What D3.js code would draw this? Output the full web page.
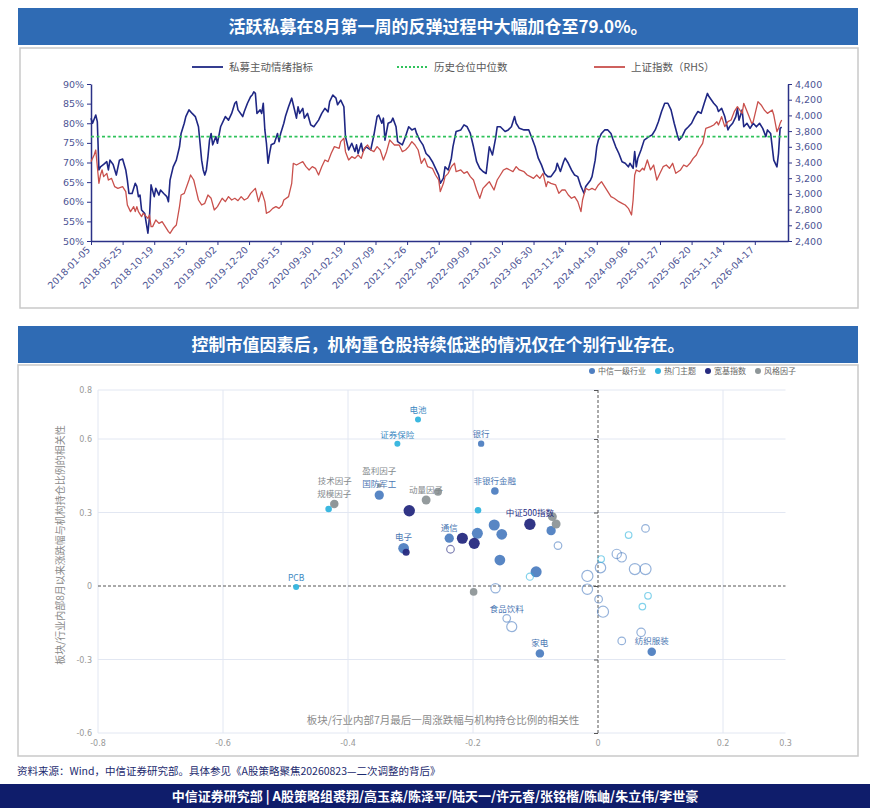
<!DOCTYPE html>
<html>
<head>
<meta charset="utf-8">
<title>私募仓位与机构重仓</title>
<style>
  body { margin: 0; background: #fff; }
  text { font-family: "Noto Sans CJK SC", "DejaVu Sans", sans-serif; }
  .num text, text.num { font-family: "DejaVu Sans", sans-serif; }
</style>
</head>
<body>
<svg width="870" height="808"></svg>
<script src="https://cdnjs.cloudflare.com/ajax/libs/d3/7.8.5/d3.min.js"></script>
<script>
// ---------- 上图数据：[周序号, 数值] ----------
const dateTicks = ["2018-01-05","2018-05-25","2018-10-19","2019-03-15","2019-08-02","2019-12-20",
  "2020-05-15","2020-09-30","2021-02-19","2021-07-09","2021-11-26","2022-04-22","2022-09-09",
  "2023-02-10","2023-06-30","2023-11-24","2024-04-19","2024-09-06","2025-01-27","2025-06-20",
  "2025-11-14","2026-04-17"];

const sentiment = [[0,81.3],[1,80.0],[3,82.1],[4,80.4],[5,68.1],[6,68.9],[8,69.5],[10,70.2],[11,68.1],
  [12,70.6],[14,69.5],[16,66.8],[18,70.6],[20,70.9],[22,68.1],[23,65.5],[24,62.1],[26,62.1],[28,64.7],
  [29,63.9],[30,61.3],[31,61.7],[32,57.9],[34,57.0],[35,54.5],[36,52.0],[37,56.0],[38,64.3],[40,61.3],
  [41,63.4],[43,61.7],[44,63.0],[46,62.1],[48,61.3],[49,60.0],[50,65.5],[52,68.9],[54,70.6],[56,74.0],
  [57,77.4],[59,80.0],[60,81.7],[62,83.4],[64,82.5],[66,81.7],[68,79.1],[69,74.9],[70,70.6],[71,68.1],
  [72,66.8],[73,68.1],[74,71.5],[75,75.7],[76,77.4],[77,74.5],[79,76.6],[80,74.9],[82,79.1],[85,81.7],
  [87,80.8],[89,82.5],[91,85.1],[92,85.5],[93,83.4],[96,81.7],[97,83.0],[99,85.1],[101,86.8],[102,87.2],
  [103,88.0],[104,87.6],[105,82.5],[107,83.4],[108,82.5],[109,85.1],[110,78.3],[111,74.9],[112,69.8],
  [113,72.3],[114,74.5],[116,74.9],[118,77.4],[119,75.3],[120,77.4],[122,80.0],[123,81.7],[125,84.2],
  [127,86.4],[128,84.7],[130,81.3],[131,84.2],[132,82.5],[134,83.8],[135,81.3],[137,82.5],[139,79.6],
  [141,79.1],[144,80.8],[146,82.5],[148,83.8],[150,82.9],[151,85.5],[153,87.2],[155,86.4],[156,84.7],
  [158,85.9],[160,84.2],[161,76.6],[163,73.2],[165,74.9],[167,72.8],[168,74.5],[169,72.3],[171,74.9],
  [172,72.8],[174,74.0],[177,73.2],[179,77.0],[181,81.7],[182,82.1],[184,80.0],[185,81.3],[186,75.7],
  [188,80.0],[190,80.4],[191,81.3],[193,79.1],[194,75.3],[197,74.5],[199,76.6],[201,79.1],[203,78.3],
  [205,78.7],[206,77.4],[208,75.7],[210,74.5],[212,72.3],[214,71.5],[216,70.2],[218,68.5],[220,66.8],
  [221,64.7],[223,66.0],[224,68.9],[226,68.1],[228,71.1],[229,74.0],[231,77.9],[234,78.3],[236,79.6],
  [238,79.1],[240,77.4],[242,74.0],[244,70.2],[246,68.5],[248,67.7],[250,67.2],[252,74.0],[254,71.9],
  [256,76.2],[257,79.1],[259,79.1],[262,77.9],[264,78.3],[266,79.1],[268,81.7],[269,80.0],[271,78.7],
  [274,78.3],[277,78.3],[279,76.2],[281,74.0],[283,71.1],[285,69.4],[287,67.2],[289,66.4],[291,66.4],
  [294,68.1],[295,69.8],[297,67.7],[299,70.2],[300,71.1],[302,69.8],[304,68.1],[306,66.8],[308,66.4],
  [310,63.9],[312,62.1],[313,63.9],[316,65.5],[317,66.4],[319,70.6],[320,74.0],[321,75.7],[323,77.4],
  [325,78.3],[327,78.3],[329,77.4],[330,76.2],[332,74.0],[334,72.3],[336,70.2],[338,69.8],[340,68.9],
  [341,69.8],[343,68.5],[344,72.8],[345,68.9],[346,71.1],[348,73.2],[350,75.7],[353,76.6],[355,77.0],
  [357,78.3],[359,80.4],[361,83.0],[363,85.1],[365,85.1],[367,83.4],[369,80.0],[371,77.0],[372,75.7],
  [374,76.6],[376,78.3],[378,79.1],[380,80.0],[382,81.7],[384,83.0],[386,82.5],[388,85.1],[390,87.6],
  [391,86.8],[394,85.1],[396,84.2],[397,83.0],[399,83.8],[401,81.7],[403,78.3],[404,79.1],[406,80.0],
  [408,81.7],[409,83.8],[410,80.8],[412,83.4],[413,79.1],[415,80.0],[417,78.7],[419,80.0],[421,79.1],
  [423,80.0],[425,78.7],[427,76.6],[428,78.3],[430,77.4],[432,70.6],[434,68.9],[435,72.3],[436,78.7],
  [437,79.0]];

const shIndex = [[0,3411],[2,3496],[3,3559],[5,3135],[6,3241],[7,3305],[8,3220],[10,3262],[11,3177],
  [13,3198],[15,3092],[17,3071],[20,3092],[22,3029],[23,2859],[25,2774],[27,2838],[28,2774],[29,2838],
  [30,2774],[32,2710],[33,2753],[35,2710],[36,2689],[37,2731],[38,2583],[39,2583],[41,2668],[43,2625],
  [45,2646],[47,2583],[49,2519],[50,2498],[52,2562],[54,2604],[56,2838],[57,2986],[59,3007],[62,3177],
  [63,3241],[65,3177],[66,3092],[68,2922],[70,2859],[72,2880],[74,2986],[76,2944],[78,2795],[80,2838],
  [83,2944],[85,2901],[87,2965],[89,2922],[91,2944],[93,2914],[95,2965],[97,2922],[99,2944],[101,3007],
  [104,3071],[106,2901],[108,3029],[110,2901],[111,2753],[113,2774],[115,2816],[117,2838],[119,2816],
  [121,2859],[122,2922],[125,2965],[127,3135],[128,3390],[130,3368],[132,3390],[134,3411],[136,3347],
  [138,3305],[140,3347],[142,3326],[144,3241],[146,3347],[148,3432],[150,3411],[152,3517],[154,3602],
  [157,3581],[158,3666],[160,3708],[161,3538],[163,3432],[165,3474],[167,3453],[169,3496],[171,3453],
  [173,3581],[175,3623],[177,3559],[179,3538],[181,3602],[183,3559],[185,3432],[187,3538],[189,3687],
  [191,3644],[192,3623],[195,3623],[197,3538],[199,3559],[201,3602],[203,3666],[205,3623],[207,3559],
  [209,3390],[211,3453],[213,3347],[216,3326],[218,3241],[220,3177],[221,3029],[223,3135],[224,3220],
  [226,3262],[228,3347],[230,3390],[231,3283],[234,3305],[236,3262],[238,3283],[240,3220],[242,3177],
  [244,3050],[246,2944],[248,3071],[250,3114],[252,3156],[255,3050],[257,3177],[259,3241],[261,3305],
  [263,3326],[265,3305],[267,3283],[269,3347],[271,3305],[274,3283],[276,3241],[278,3220],[280,3198],
  [282,3241],[284,3198],[286,3262],[288,3092],[289,3156],[291,3135],[294,3114],[296,3007],[298,3050],
  [300,3050],[302,2986],[304,2944],[306,2965],[308,2901],[310,2774],[311,2922],[313,3071],[315,3050],
  [317,3071],[319,3050],[321,3114],[323,3156],[325,3092],[327,3029],[329,2965],[331,2944],[334,2901],
  [336,2880],[338,2859],[340,2816],[342,2731],[343,2922],[344,3241],[345,3305],[347,3283],[349,3326],
  [350,3305],[352,3432],[354,3305],[356,3368],[358,3177],[360,3262],[362,3347],[364,3368],[366,3326],
  [368,3390],[370,3262],[373,3305],[375,3368],[377,3347],[379,3390],[381,3453],[383,3496],[385,3581],
  [387,3644],[389,3835],[392,3857],[394,3878],[396,3920],[397,3878],[399,3984],[401,3857],[403,3920],
  [405,3941],[407,4048],[409,4111],[412,4026],[413,4154],[416,4005],[418,3899],[419,3920],[422,4175],
  [424,4133],[426,4069],[428,4026],[431,4069],[432,4005],[434,3793],[435,3835],[436,3899],[437,3941]];

const medianPos = 76.6;
const leftTicks = [50,55,60,65,70,75,80,85,90];
const rightTicks = [2400,2600,2800,3000,3200,3400,3600,3800,4000,4200,4400];

// ---------- 下图数据：[名称, x相关性, y相关性, 权重, 是否显著] ----------
const industryPts = [
  ["国防军工",-0.350,0.371,6,1],["电子",-0.311,0.154,8,1],["通信",-0.238,0.195,6,1],
  ["银行",-0.187,0.581,2.8,1],["非银行金融",-0.165,0.388,4,1],["",-0.193,0.215,8.5,1],
  ["",-0.166,0.249,8.5,1],["",-0.154,0.211,8,1],["",-0.157,0.106,8,1],["",-0.099,0.058,8.5,1],
  ["",-0.075,0.226,6,1],["家电",-0.093,-0.275,5,1],["纺织服装",0.086,-0.268,5,1],
  ["食品饮料",-0.146,-0.132,4,0],["",-0.138,-0.166,7,0],["",-0.064,0.165,4,0],["",-0.164,-0.009,6,0],
  ["",-0.017,0.041,8.5,0],["",-0.017,-0.013,7.5,0],["",0.001,-0.054,4,0],["",0.008,-0.105,8.5,0],
  ["",0.004,0.075,7.5,0],["",0.076,0.235,4,0],["",0.030,0.131,6,0],["",0.038,0.117,6,0],
  ["",0.059,0.069,8.5,0],["",0.076,0.069,8.5,0],["",0.069,-0.189,5,0],["",0.038,-0.224,4,0]];
const themePts = [
  ["电池",-0.288,0.680,2.5,1],["证券保险",-0.321,0.581,2.5,1],["PCB",-0.483,-0.004,2.5,1],
  ["",-0.431,0.314,3,1],["",-0.192,0.309,3,1],["",-0.109,0.038,3.5,0],["",0.005,0.110,3,0],
  ["",0.049,0.208,3,0],["",0.080,-0.040,3,0],["",0.071,-0.084,3,0]];
const indexPts = [
  ["",-0.302,0.307,9,1],["",-0.307,0.138,3.5,1],["中证500指数",-0.109,0.252,9,1],
  ["",-0.217,0.195,8.5,1],["",-0.198,0.174,8.5,1],["",-0.236,0.150,4,0]];
const factorPts = [
  ["规模因子",-0.422,0.335,5,1],["技术因子",-0.421,0.337,3,1],["盈利因子",-0.350,0.410,1.5,1],
  ["动量因子",-0.275,0.351,5.5,1],["",-0.256,0.385,4.5,1],["",-0.073,0.283,5.5,1],
  ["",-0.067,0.253,5.5,1],["",-0.199,-0.024,4,1]];

const scatterSeries = [
  {name: "中信一级行业", pts: industryPts, color: "#4f7fc1", label: "#4b77b3"},
  {name: "热门主题", pts: themePts, color: "#31b4de", label: "#3b88c2"},
  {name: "宽基指数", pts: indexPts, color: "#262a7f", label: "#262a7f"},
  {name: "风格因子", pts: factorPts, color: "#8e9698", label: "#858b8e"}
];
const sxTicks = [-0.8,-0.6,-0.4,-0.2,0,0.2,0.3];
const syTicks = [0.8,0.6,0.3,0,-0.3,-0.6];

const svg = d3.select("svg");

// ---------- 标题栏 ----------
function banner(y, txt) {
  svg.append("rect").attr("x", 18).attr("y", y).attr("width", 840).attr("height", 37).attr("fill", "#2f6bb4");
  svg.append("text").attr("x", 438).attr("y", y + 24.5).attr("text-anchor", "middle")
    .attr("fill", "#fff").attr("font-size", 17).attr("font-weight", 700).text(txt);
}
banner(8, "活跃私募在8月第一周的反弹过程中大幅加仓至79.0%。");
svg.append("rect").attr("x", 20).attr("y", 48).attr("width", 838).attr("height", 260)
  .attr("fill", "#fff").attr("stroke", "#c9c9c9").attr("stroke-width", 1.5);

// ---------- 上图 ----------
const axisColor = "#2b3187", tickText = "#4d5494";
const xTop = d3.scaleLinear().domain([0, 441]).range([91, 788]);
const yLeft = d3.scaleLinear().domain([50, 90]).range([241, 84]);
const yRight = d3.scaleLinear().domain([2400, 4400]).range([241, 84]);

const gx = svg.append("g").attr("class", "num").attr("transform", "translate(0,241)")
  .call(d3.axisBottom(xTop).tickValues(d3.range(0, 421, 20)).tickSize(4).tickSizeOuter(0)
    .tickFormat((d, i) => dateTicks[i]));
gx.selectAll("text").attr("y", 0).attr("dy", "0.35em").attr("text-anchor", "end")
  .attr("transform", "translate(-3,7) rotate(-45)");

const gl = svg.append("g").attr("class", "num").attr("transform", "translate(91,0)")
  .call(d3.axisLeft(yLeft).tickValues(leftTicks).tickSize(4).tickSizeOuter(0).tickFormat(d => d + "%"));
const gr = svg.append("g").attr("class", "num").attr("transform", "translate(788,0)")
  .call(d3.axisRight(yRight).tickValues(rightTicks).tickSize(4).tickSizeOuter(0).tickFormat(d3.format(",")));

[gx, gl, gr].forEach(g => {
  g.select(".domain").attr("stroke", axisColor).attr("stroke-width", 1.5);
  g.selectAll(".tick line").attr("stroke", axisColor);
  g.selectAll("text").attr("fill", tickText).attr("font-size", 9.5);
});

const lineL = d3.line().x(d => xTop(d[0])).y(d => yLeft(d[1]));
const lineR = d3.line().x(d => xTop(d[0])).y(d => yRight(d[1]));

svg.append("path").datum(sentiment).attr("d", lineL).attr("fill", "none")
  .attr("stroke", "#1f2784").attr("stroke-width", 1.6).attr("stroke-linejoin", "round");
svg.append("line").attr("x1", xTop(0)).attr("x2", xTop(441)).attr("y1", yLeft(medianPos)).attr("y2", yLeft(medianPos))
  .attr("stroke", "#2fc25b").attr("stroke-width", 1.6).attr("stroke-dasharray", "3,2.5");
svg.append("path").datum(shIndex).attr("d", lineR).attr("fill", "none")
  .attr("stroke", "#c9504c").attr("stroke-width", 1.3).attr("stroke-linejoin", "round");

// 图例
const topLegend = [
  {t: "私募主动情绪指标", c: "#1f2784", dash: null, x: 192},
  {t: "历史仓位中位数", c: "#2fc25b", dash: "2,2", x: 397},
  {t: "上证指数（RHS）", c: "#c9504c", dash: null, x: 594}
];
topLegend.forEach(l => {
  svg.append("line").attr("x1", l.x).attr("x2", l.x + 31).attr("y1", 67).attr("y2", 67)
    .attr("stroke", l.c).attr("stroke-width", 1.8).attr("stroke-dasharray", l.dash);
  svg.append("text").attr("x", l.x + 37).attr("y", 71).attr("font-size", 10.5).attr("fill", "#595959").text(l.t);
});

// ---------- 下图 ----------
banner(326, "控制市值因素后，机构重仓股持续低迷的情况仅在个别行业存在。");
svg.append("rect").attr("x", 18).attr("y", 365).attr("width", 840).attr("height", 391)
  .attr("fill", "#fff").attr("stroke", "#c9c9c9").attr("stroke-width", 1.5);

const xS = d3.scaleLinear().domain([-0.8, 0.3]).range([98, 785.5]);
const yS = d3.scaleLinear().domain([-0.6, 0.8]).range([733, 390]);
const rS = d3.scaleSqrt().domain([0, 10]).range([0, 6]);

// 网格
svg.append("g").selectAll("line").data(sxTicks.filter(d => d !== 0 && d !== 0.3)).join("line")
  .attr("x1", d => xS(d)).attr("x2", d => xS(d)).attr("y1", yS(0.8)).attr("y2", yS(-0.6))
  .attr("stroke", "#e2e7f2");
svg.append("g").selectAll("line").data(syTicks.filter(d => d !== 0)).join("line")
  .attr("x1", xS(-0.8)).attr("x2", xS(0.3)).attr("y1", d => yS(d)).attr("y2", d => yS(d))
  .attr("stroke", "#e2e7f2");

// 零轴（虚线）
svg.append("line").attr("x1", xS(0)).attr("x2", xS(0)).attr("y1", yS(0.8)).attr("y2", yS(-0.6))
  .attr("stroke", "#555").attr("stroke-dasharray", "3,2");
svg.append("line").attr("x1", xS(-0.8)).attr("x2", xS(0.3)).attr("y1", yS(0)).attr("y2", yS(0))
  .attr("stroke", "#555").attr("stroke-dasharray", "3,2");
const yz = svg.append("g").attr("transform", `translate(${xS(0)},0)`)
  .call(d3.axisLeft(yS).tickValues(syTicks).tickSize(4).tickFormat(""));
yz.select(".domain").remove();
yz.selectAll(".tick line").attr("stroke", "#555");

// 刻度文字
svg.append("g").selectAll("text").data(sxTicks).join("text").attr("class", "num")
  .attr("x", d => xS(d)).attr("y", 746).attr("text-anchor", "middle")
  .attr("font-size", 8).attr("fill", "#999").text(d => d);
svg.append("g").selectAll("text").data(syTicks).join("text").attr("class", "num")
  .attr("x", 92).attr("y", d => yS(d) + 3).attr("text-anchor", "end")
  .attr("font-size", 8).attr("fill", "#999").text(d => d);

// 轴标题
svg.append("text").attr("x", 443).attr("y", 724).attr("text-anchor", "middle")
  .attr("font-size", 10.5).attr("fill", "#8a8a8a").text("板块/行业内部7月最后一周涨跌幅与机构持仓比例的相关性");
svg.append("text").attr("transform", "translate(64,545) rotate(-90)").attr("text-anchor", "middle")
  .attr("font-size", 10).attr("fill", "#8a8a8a").text("板块/行业内部8月以来涨跌幅与机构持仓比例的相关性");

// 散点
scatterSeries.forEach(s => {
  svg.append("g").selectAll("circle").data(s.pts).join("circle")
    .attr("cx", d => xS(d[1])).attr("cy", d => yS(d[2])).attr("r", d => rS(d[3]))
    .attr("fill", d => d[4] ? s.color : "none")
    .attr("fill-opacity", 0.95)
    .attr("stroke", d => d[4] ? "none" : s.color)
    .attr("stroke-opacity", 0.6).attr("stroke-width", 1.2);
});

// 标签（重叠时上移）
const placed = [];
const textW = t => Array.from(t).reduce((a, c) => a + (/[\x00-\x7f]/.test(c) ? 5 : 8.5), 0);
scatterSeries.forEach(s => {
  s.pts.filter(d => d[0]).forEach(d => {
    const x = xS(d[1]);
    let y = yS(d[2]) - rS(d[3]) - 3;
    const w = textW(d[0]);
    let moved = true;
    while (moved) {
      moved = false;
      for (const p of placed) {
        if (Math.abs(p.x - x) < (p.w + w) / 2 && Math.abs(p.y - y) < 12) { y = p.y - 13; moved = true; }
      }
    }
    placed.push({x, y, w});
    svg.append("text").attr("x", x).attr("y", y).attr("text-anchor", "middle")
      .attr("font-size", 8.5).attr("fill", s.label).text(d[0]);
  });
});

// 图例
let lx = 592;
scatterSeries.forEach(s => {
  svg.append("circle").attr("cx", lx).attr("cy", 371).attr("r", 3).attr("fill", s.color);
  svg.append("text").attr("x", lx + 6).attr("y", 374).attr("font-size", 8).attr("fill", "#666").text(s.name);
  lx += 6 + textW(s.name) * 8 / 8.5 + 12;
});

// ---------- 来源与页脚 ----------
svg.append("text").attr("x", 17).attr("y", 775).attr("font-size", 10.5).attr("fill", "#1c2a6e")
  .text("资料来源：Wind，中信证券研究部。具体参见《A股策略聚焦20260823—二次调整的背后》");
svg.append("rect").attr("x", 0).attr("y", 784).attr("width", 870).attr("height", 24).attr("fill", "#0f1d6b");
svg.append("text").attr("x", 435).attr("y", 801).attr("text-anchor", "middle").attr("fill", "#fff")
  .attr("font-size", 13).attr("font-weight", 700)
  .text("中信证券研究部 | A股策略组裘翔/高玉森/陈泽平/陆天一/许元睿/张铭楷/陈岫/朱立伟/李世豪");
</script>
</body>
</html>
